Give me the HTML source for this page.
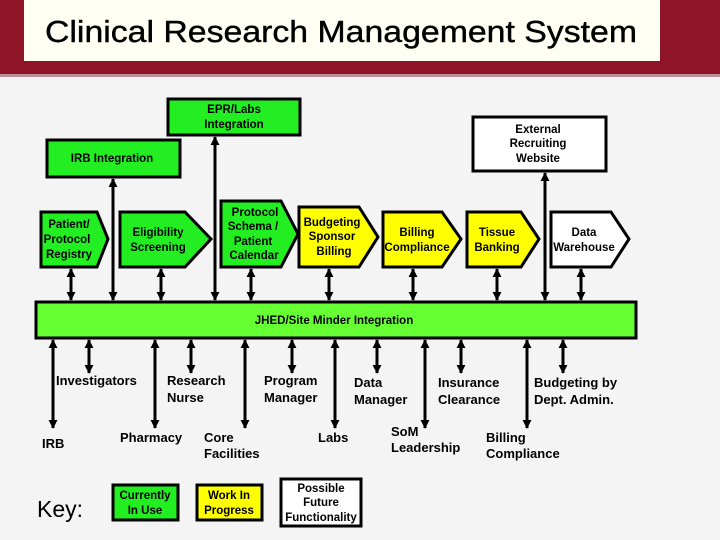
<!DOCTYPE html>
<html><head><meta charset="utf-8"><style>
body{margin:0;width:720px;height:540px;overflow:hidden;background:#f4f4f4}
svg{display:block}
text{font-family:"Liberation Sans",sans-serif;font-weight:bold;fill:#000}
</style></head><body>
<svg width="720" height="540" viewBox="0 0 720 540">
<defs>
<marker id="a" viewBox="0 0 10 10" refX="9" refY="5" markerWidth="3" markerHeight="3" orient="auto-start-reverse"><path d="M0,0L10,5L0,10z" fill="#000"/></marker>
</defs>
<rect x="0" y="0" width="720" height="74" fill="#8f1428"/>
<rect x="0" y="74" width="720" height="3" fill="#b89098"/>
<rect x="24" y="0" width="636" height="61" fill="#fffff4"/>
<text x="45" y="42" font-size="31" textLength="592" lengthAdjust="spacingAndGlyphs" style="font-weight:normal;stroke:#000;stroke-width:0.4">Clinical Research Management System</text>

<g stroke="#000" stroke-width="3" marker-start="url(#a)" marker-end="url(#a)">
<line x1="71" y1="269" x2="71" y2="300"/>
<line x1="113" y1="179" x2="113" y2="300"/>
<line x1="161" y1="269" x2="161" y2="300"/>
<line x1="215" y1="137" x2="215" y2="300"/>
<line x1="251" y1="269" x2="251" y2="300"/>
<line x1="329" y1="269" x2="329" y2="300"/>
<line x1="413" y1="269" x2="413" y2="300"/>
<line x1="497" y1="269" x2="497" y2="300"/>
<line x1="545" y1="173" x2="545" y2="300"/>
<line x1="581" y1="269" x2="581" y2="300"/>
<line x1="53" y1="340" x2="53" y2="428"/>
<line x1="89" y1="340" x2="89" y2="373"/>
<line x1="155" y1="340" x2="155" y2="428"/>
<line x1="191" y1="340" x2="191" y2="373"/>
<line x1="245" y1="340" x2="245" y2="428"/>
<line x1="292" y1="340" x2="292" y2="373"/>
<line x1="335" y1="340" x2="335" y2="428"/>
<line x1="377" y1="340" x2="377" y2="373"/>
<line x1="425" y1="340" x2="425" y2="428"/>
<line x1="461" y1="340" x2="461" y2="373"/>
<line x1="527" y1="340" x2="527" y2="428"/>
<line x1="563" y1="340" x2="563" y2="373"/>
</g>

<g stroke="#000" stroke-width="3">
<rect x="168" y="99" width="132" height="36" fill="#22ee22"/>
<rect x="47" y="140" width="133" height="37" fill="#22ee22"/>
<rect x="473" y="117" width="133" height="54" fill="#fff"/>
<path d="M41,212H97L108,239L97,267H41Z" fill="#22ee22"/>
<path d="M120,212H185L211,239L185,267H120Z" fill="#22ee22"/>
<path d="M221,201H281L298,234L281,267H221Z" fill="#22ee22"/>
<path d="M299,207H359L378,237L359,267H299Z" fill="#ffff00"/>
<path d="M383,212H442L461,239L442,267H383Z" fill="#ffff00"/>
<path d="M467,212H521L539,239L521,267H467Z" fill="#ffff00"/>
<path d="M551,212H611L629,239L611,267H551Z" fill="#fff"/>
<rect x="36" y="302" width="600" height="36" fill="#66ff33"/>
<rect x="113" y="485" width="65" height="35" fill="#22ee22"/>
<rect x="197" y="485" width="65" height="35" fill="#ffff00"/>
<rect x="281" y="479" width="80" height="47" fill="#fff"/>
</g>

<g font-size="11.5" text-anchor="middle">
<text x="234" y="113">EPR/Labs</text><text x="234" y="128">Integration</text>
<text x="112" y="162">IRB Integration</text>
<text x="538" y="133">External</text><text x="538" y="147">Recruiting</text><text x="538" y="162">Website</text>
<text x="69" y="228">Patient/</text><text x="67" y="243">Protocol</text><text x="69" y="258">Registry</text>
<text x="158" y="236">Eligibility</text><text x="158" y="251">Screening</text>
<text x="255" y="216">Protocol</text><text x="253" y="230">Schema /</text><text x="253" y="245">Patient</text><text x="254" y="259">Calendar</text>
<text x="332" y="226">Budgeting</text><text x="332" y="240">Sponsor</text><text x="334" y="255">Billing</text>
<text x="417" y="236">Billing</text><text x="417" y="251">Compliance</text>
<text x="497" y="236">Tissue</text><text x="497" y="251">Banking</text>
<text x="584" y="236">Data</text><text x="584" y="251">Warehouse</text>
<text x="334" y="324">JHED/Site Minder Integration</text>
<text x="145" y="499">Currently</text><text x="145" y="514">In Use</text>
<text x="229" y="499">Work In</text><text x="229" y="514">Progress</text>
<text x="321" y="492">Possible</text><text x="321" y="506">Future</text><text x="321" y="521">Functionality</text>
</g>

<g font-size="13">
<text x="56" y="385">Investigators</text>
<text x="167" y="385">Research</text><text x="167" y="402">Nurse</text>
<text x="264" y="385">Program</text><text x="264" y="402">Manager</text>
<text x="354" y="387">Data</text><text x="354" y="404">Manager</text>
<text x="438" y="387">Insurance</text><text x="438" y="404">Clearance</text>
<text x="534" y="387">Budgeting by</text><text x="534" y="404">Dept. Admin.</text>
<text x="42" y="448">IRB</text>
<text x="120" y="442">Pharmacy</text>
<text x="204" y="442">Core</text><text x="204" y="458">Facilities</text>
<text x="318" y="442">Labs</text>
<text x="391" y="436">SoM</text><text x="391" y="452">Leadership</text>
<text x="486" y="442">Billing</text><text x="486" y="458">Compliance</text>
</g>
<text x="37" y="517" font-size="23" style="font-weight:normal">Key:</text>
</svg>
</body></html>
